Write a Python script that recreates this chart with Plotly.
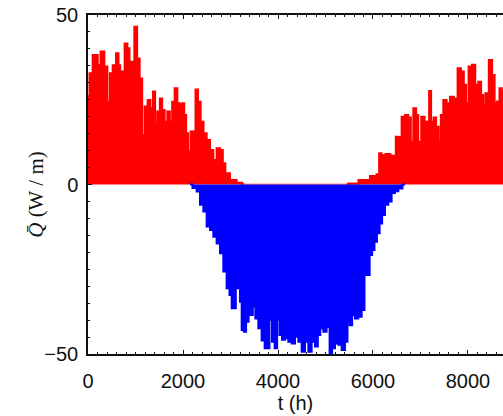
import plotly.graph_objects as go

# Hourly heat flux over one year: envelope of the heating (positive) and
# cooling (negative) periods, in W/m, against time in hours.
# None marks the summer stretch with no heating at all.
t_heat = [0, 63, 133, 189, 221, 309, 379, 436, 484, 554, 625, 659, 695, 743,
          800, 857, 890, 941, 1010, 1059, 1116, 1164, 1221, 1290, 1341, 1396,
          1431, 1488, 1537, 1585, 1642, 1699, 1747, 1796, 1852, 1909, 1958,
          2006, 2048, 2084, 2132, 2189, 2238, 2288, 2343, 2400, 2463, 2533,
          2604, 2673, 2743, 2814, 2863, 2920, 3059, 3200, 3284, 4400, 5450,
          5557, 5831,
          6041, 6111, 6147, 6210, 6315, 6420, 6462, 6498, 6568, 6638, 6709,
          6778, 6814, 6884, 6932, 6974, 7058, 7115, 7163, 7199, 7248, 7304,
          7353, 7410, 7445, 7515, 7584, 7656, 7746, 7816, 7888, 7936, 7984,
          8041, 8125, 8182, 8252, 8300, 8336, 8393, 8483, 8532, 8589, 8638,
          8688, 8736, 8760]
q_heat = [26, 32.8, 38.2, 38.2, 35.2, 39.2, 34.8, 24.4, 32.8, 35.2, 38.7, 35.2,
          26.4, 33.3, 41.6, 40.2, 30.3, 36.2, 46.5, 37.2, 31.3, 14.6, 23, 24.9,
          22.5, 27.4, 18, 21.5, 25.4, 22, 18.5, 21.5, 18.5, 24.4, 28.4, 24,
          23.5, 24, 20.5, 15.1, 9.7, 15.6, 15.6, 28, 24.4, 18.5, 15.1, 13.1,
          10.2, 7.2, 10.7, 10.2, 6.3, 3.3, 1.3, 0.5, 0.2, None, 0.2,
          0.3, 1.3,
          2.5, 3, 9.2, 8.7, 9, 8.5, 7.5, 14.1, 14, 20, 20.5,
          19.8, 12.6, 22.5, 20.5, 12.6, 20, 18.5, 15, 27.6, 18.5, 19.8,
          17, 12.6, 20.5, 24.9, 24, 25.9, 25.4, 34.3, 33.3, 29.4, 24,
          34.8, 35.3, 29.4, 30.3, 26.4, 23.4, 26.9, 36.7, 32.3, 24, 24.5,
          28.4, 27.5, 27]

t_cool = [2147, 2252, 2322, 2393, 2463, 2533, 2604, 2673, 2743, 2814, 2884,
          2953, 3004, 3046, 3094, 3130, 3185, 3214, 3257, 3305, 3353, 3410,
          3446, 3494, 3551, 3621, 3690, 3747, 3795, 3846, 3901, 3957, 4006,
          4057, 4111, 4183, 4252, 4322, 4393, 4463, 4532, 4604, 4673, 4743,
          4814, 4863, 4919, 4989, 5058, 5115, 5164, 5235, 5305, 5375, 5446,
          5479, 5536, 5585, 5656, 5726, 5796, 5846, 5901, 5958, 6006, 6056,
          6111, 6168, 6216, 6288, 6357, 6426, 6498, 6568, 6673]
q_cool = [0, -1, -2.1, -6, -8, -12.4, -13.4, -15.4, -17.4, -20.3, -25.7,
          -30.6, -32.6, -36.5, -36.5, -30.6, -30.6, -34.6, -42.9, -43.4, -40.5,
          -38.5, -38.5, -36, -39.5, -42.4, -46, -48.3, -48.3, -40, -46.4,
          -48.3, -40, -44.4, -45.8, -45.4, -46.4, -46.9, -44.9, -46.4, -49.3,
          -46.4, -49.3, -46.4, -47.8, -44.4, -42.4, -43.4, -42, -50.3, -48.3,
          -46.9, -47.3, -48.8, -46.4, -40.5, -41.5, -38.5, -39.5, -39, -37,
          -26.7, -26.7, -20.8, -19.3, -16.9, -14.4, -11.5, -9, -6, -5, -2.5,
          -2, -1.2, 0]

x_ticks = [0, 2000, 4000, 6000, 8000]
y_ticks = [-50, 0, 50]

fig = go.Figure()
fig.add_trace(go.Scatter(
    x=t_heat, y=q_heat, mode="lines", fill="tozeroy", connectgaps=False,
    line=dict(color="#ff0000", width=2, shape="hvh"), fillcolor="#ff0000",
    hoverinfo="skip", showlegend=False))
fig.add_trace(go.Scatter(
    x=t_cool, y=q_cool, mode="lines", fill="tozeroy",
    line=dict(color="#0000ff", width=2, shape="hvh"), fillcolor="#0000ff",
    hoverinfo="skip", showlegend=False))

tick_font = dict(family="Liberation Sans, Arial, sans-serif", size=20, color="#111111")

fig.update_layout(
    width=503, height=416,
    margin=dict(l=88, r=0, t=15, b=62),
    paper_bgcolor="white", plot_bgcolor="white",
    xaxis=dict(
        range=[0, 8737], tickvals=x_ticks, ticktext=[str(v) for v in x_ticks],
        ticks="inside", ticklen=4, tickwidth=1, tickcolor="#111111",
        minor=dict(dtick=200, ticks="inside", ticklen=2, tickcolor="#111111"),
        showline=True, linecolor="#111111", linewidth=1.5, mirror="ticks",
        showgrid=False, zeroline=False, tickfont=tick_font,
        ticklabelstandoff=8,
        title=dict(text="t (h)", font=tick_font, standoff=4),
    ),
    yaxis=dict(
        range=[-50, 50], tickvals=y_ticks, ticktext=["\u221250", "0", "50"],
        ticks="inside", ticklen=4, tickwidth=1, tickcolor="#111111",
        minor=dict(dtick=5, ticks="inside", ticklen=2, tickcolor="#111111"),
        showline=True, linecolor="#111111", linewidth=1.5,
        showgrid=False, zeroline=False, tickfont=tick_font,
        ticklabelstandoff=4,
    ),
    annotations=[dict(
        text="<i>Q\u0304</i> (W / m)", textangle=-90,
        xref="paper", yref="paper", x=-0.125, y=0.47,
        xanchor="center", yanchor="middle", showarrow=False,
        font=dict(family="Liberation Serif, Times New Roman, serif",
                  size=21, color="#111111"),
    )],
)

fig.write_html("out.html")
